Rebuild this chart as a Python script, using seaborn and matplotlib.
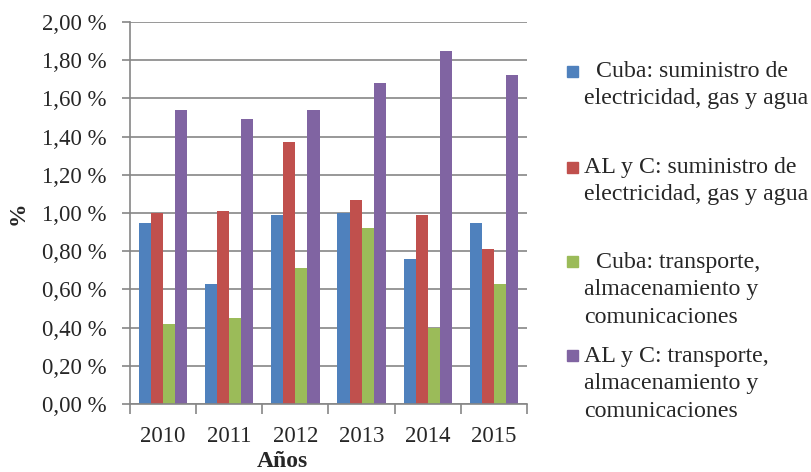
import matplotlib
matplotlib.use("Agg")
import matplotlib.pyplot as plt
from matplotlib.patches import Rectangle
from matplotlib.ticker import FuncFormatter, FixedLocator
import seaborn as sns
import pandas as pd

# Data: share (%) per year for each sector / region
years = ["2010", "2011", "2012", "2013", "2014", "2015"]
series = [
    "  Cuba: suministro de\nelectricidad, gas y agua",
    "AL y C: suministro de\nelectricidad, gas y agua",
    "  Cuba: transporte,\nalmacenamiento y\ncomunicaciones",
    "AL y C: transporte,\nalmacenamiento y\ncomunicaciones",
]
cuba_elec = [0.95, 0.63, 0.99, 1.00, 0.76, 0.95]
alc_elec = [1.00, 1.01, 1.37, 1.07, 0.99, 0.81]
cuba_transp = [0.42, 0.45, 0.71, 0.92, 0.40, 0.63]
alc_transp = [1.54, 1.49, 1.54, 1.68, 1.85, 1.72]
colors = ["#4F81BD", "#C0504D", "#9BBB59", "#8064A2"]

values = [cuba_elec, alc_elec, cuba_transp, alc_transp]
rows = []
for name, vals in zip(series, values):
    for y, v in zip(years, vals):
        rows.append({"Año": y, "Serie": name, "Valor": v})
df = pd.DataFrame(rows)

sns.set_style("white")
plt.rcParams["font.family"] = ["Liberation Serif", "DejaVu Serif"]
plt.rcParams["font.size"] = 16

fig = plt.figure(figsize=(8.11, 4.72), dpi=100)
ax = fig.add_axes([130 / 811, 1 - 404 / 472, 397 / 811, 382 / 472])

sns.barplot(
    data=df, x="Año", y="Valor", hue="Serie", hue_order=series,
    palette=colors, width=0.73, gap=0, legend=False, ax=ax,
    saturation=1, edgecolor="none", linewidth=0,
)

grid_c = "#868686"
ax.set_ylim(0, 2.0)
ax.set_xlim(-0.5, len(years) - 0.5)
ax.set_yticks([i * 0.2 for i in range(11)])
ax.yaxis.set_major_formatter(FuncFormatter(lambda v, p: f"{v:.2f}".replace(".", ",") + " %"))
ax.yaxis.grid(True, color=grid_c, linewidth=1.2)
ax.set_axisbelow(True)

for side in ["top", "right"]:
    ax.spines[side].set_visible(False)
for side in ["left", "bottom"]:
    ax.spines[side].set_color(grid_c)
    ax.spines[side].set_linewidth(1.2)

ax.tick_params(axis="y", which="major", length=6, width=1.2, color=grid_c,
               pad=11, labelsize=16.5, left=True)
ax.tick_params(axis="x", which="major", length=0, pad=16, labelsize=16.5)
ax.xaxis.set_minor_locator(FixedLocator([i - 0.5 for i in range(len(years) + 1)]))
ax.tick_params(axis="x", which="minor", length=7, width=1.2, color=grid_c, bottom=True)

ax.set_xlabel("Años", fontweight="bold", fontsize=17)
ax.xaxis.set_label_coords(0.385, -0.124)
ax.set_ylabel("%", fontweight="bold", fontsize=17)
ax.yaxis.set_label_coords(-0.255, 0.5)

# Legend: square swatch beside each top-aligned, multi-line label
text_top = [61, 157, 252, 346]
swatch_top = [66, 162, 256, 350]
for name, col, ty, sy in zip(series, colors, text_top, swatch_top):
    fig.patches.append(Rectangle((567 / 811, 1 - (sy + 11) / 472), 11 / 811, 11 / 472,
                                 transform=fig.transFigure, color=col))
    fig.text(584 / 811, 1 - ty / 472, name, ha="left", va="top",
             fontsize=17.2, linespacing=1.4)

fig.savefig("out.png", dpi=100)
